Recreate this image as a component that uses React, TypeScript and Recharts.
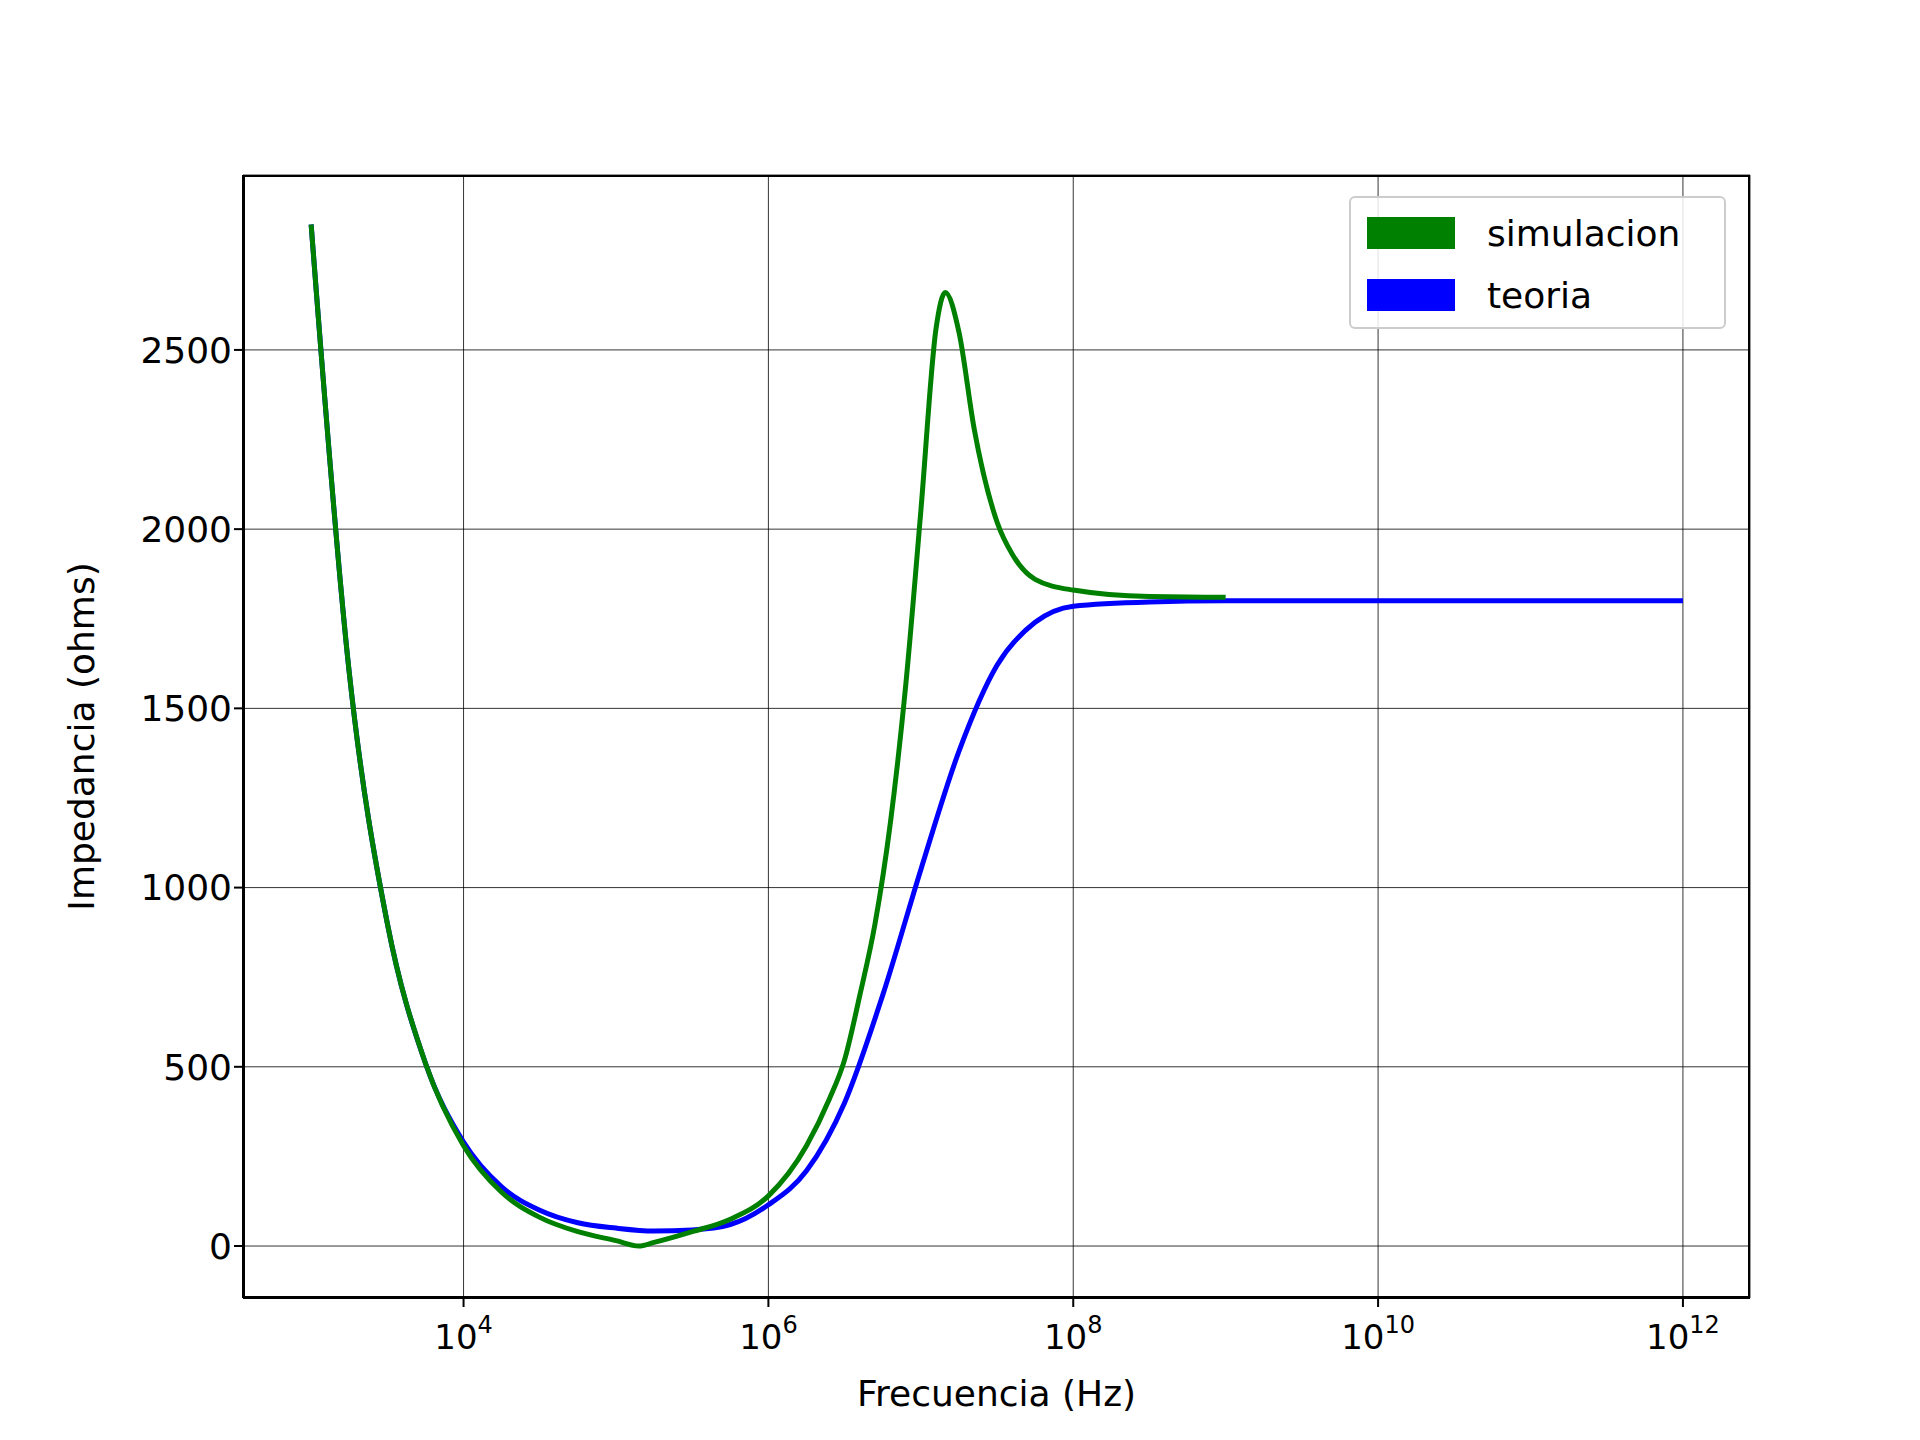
import { LineChart, Line, XAxis, YAxis, CartesianGrid } from 'recharts';

const teoriaExp = [3, 3.25, 3.5, 3.75, 4, 4.25, 4.5, 4.75, 5, 5.25, 5.5, 5.75, 6, 6.25, 6.5, 6.75, 7, 7.25, 7.5, 7.75, 8, 8.5, 9, 10, 11, 12];
const teoriaZ = [2850, 1600, 900, 510, 290, 165, 100, 65, 50, 42, 45, 60, 115, 210, 400, 700, 1050, 1380, 1620, 1740, 1785, 1797, 1800, 1800, 1800, 1800];

const simExp = [3, 3.25, 3.5, 3.75, 4, 4.25, 4.5, 4.75, 5, 5.15, 5.25, 5.5, 5.75, 6, 6.25, 6.4, 6.5, 6.6, 6.7, 6.8, 6.9, 7, 7.1, 7.16, 7.25, 7.35, 7.5, 7.6, 7.75, 8, 8.5, 9];
const simZ = [2850, 1600, 900, 510, 280, 150, 80, 40, 15, 0, 10, 40, 75, 140, 280, 410, 520, 700, 900, 1180, 1560, 2050, 2560, 2660, 2550, 2280, 2020, 1930, 1860, 1830, 1812, 1810];

const xTickExp = [4, 6, 8, 10, 12];
const yTicks = [0, 500, 1000, 1500, 2000, 2500];

const teoria = teoriaExp.map((e, i) => ({ f: Math.pow(10, e), z: teoriaZ[i] }));
const sim = simExp.map((e, i) => ({ f: Math.pow(10, e), z: simZ[i] }));

const FONT = 'DejaVu Sans';

const LogTick = (props: any) => {
  const { x, y, payload } = props;
  const e = Math.round(Math.log10(payload.value));
  return (
    <text x={x} y={y + 40} textAnchor="middle" fontFamily={FONT} fontSize={34} fill="#000">
      10<tspan dy={-16} fontSize={24}>{e}</tspan>
    </text>
  );
};

export default function App() {
  return (
    <div style={{ position: 'relative', width: 1920, height: 1440, background: '#fff' }}>
      <LineChart width={1920} height={1440} margin={{ top: 167, right: 178, left: 135, bottom: 90 }}>
        <CartesianGrid xAxisId="b" yAxisId="l" stroke="#000" strokeWidth={0.8} />
        <XAxis xAxisId="b" type="number" dataKey="f" scale="log" domain={[Math.pow(10, 2.553), Math.pow(10, 12.44)]} allowDataOverflow ticks={xTickExp.map((e) => Math.pow(10, e))} tick={<LogTick />} height={60} stroke="#000" strokeWidth={2} tickSize={9} label={{ value: 'Frecuencia (Hz)', position: 'insideBottom', offset: -48, fontSize: 36, fontFamily: FONT, fill: '#000' }} />
        <YAxis yAxisId="l" type="number" domain={[-145, 2988]} allowDataOverflow ticks={yTicks} width={100} stroke="#000" strokeWidth={2} tickSize={9} tick={{ fontSize: 36, fontFamily: FONT, fill: '#000' }} label={{ value: 'Impedancia (ohms)', angle: -90, position: 'insideLeft', offset: -62, fontSize: 36, fontFamily: FONT, fill: '#000', style: { textAnchor: 'middle' } }} />
        <Line xAxisId="b" yAxisId="l" data={teoria} dataKey="z" name="teoria" type="monotone" stroke="#0000ff" strokeWidth={5} dot={false} isAnimationActive={false} />
        <Line xAxisId="b" yAxisId="l" data={sim} dataKey="z" name="simulacion" type="monotone" stroke="#008000" strokeWidth={5} dot={false} isAnimationActive={false} />
      </LineChart>
      <div style={{ position: 'absolute', left: 235, top: 167, width: 1507, height: 1123, border: '2px solid #000', boxSizing: 'border-box', pointerEvents: 'none' }} />
      <div style={{ position: 'absolute', left: 1341, top: 188, width: 377, height: 133, border: '2px solid #ccc', borderRadius: 6, background: 'rgba(255,255,255,0.85)', fontFamily: FONT, fontSize: 36, boxSizing: 'border-box', padding: '4px 16px' }}>
        {[['simulacion', '#008000'], ['teoria', '#0000ff']].map(([n, c]) => (
          <div key={n} style={{ display: 'flex', alignItems: 'center', height: 62 }}>
            <div style={{ width: 88, height: 32, background: c, marginRight: 32 }} />
            <span>{n}</span>
          </div>
        ))}
      </div>
    </div>
  );
}
